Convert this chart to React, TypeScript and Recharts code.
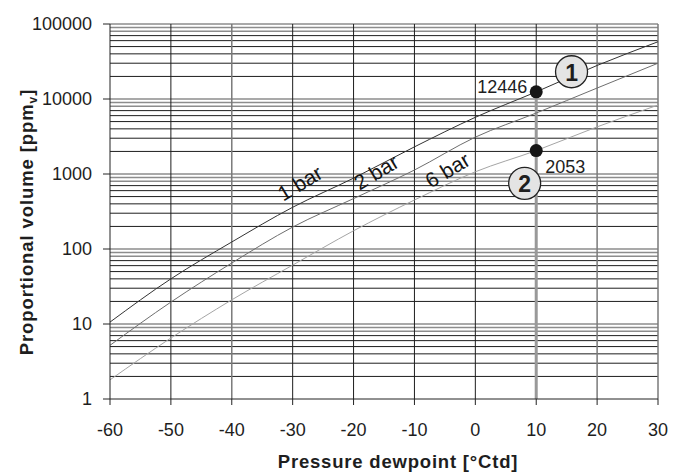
import { Line, LineChart, ReferenceDot, ReferenceLine, XAxis, YAxis } from 'recharts'

// pressure dewpoint [°Ctd]
const temps = [-60, -50, -40, -30, -20, -10, 0, 10, 20, 30]
// proportional volume [ppmv] per line pressure
const ppm1bar = [10.6, 40, 124, 360, 880, 2300, 5700, 12446, 28000, 58000]
const ppm2bar = [5.2, 19.6, 65, 196, 470, 1130, 3100, 6500, 14000, 30000]
const ppm6bar = [1.8, 6.5, 21, 61, 175, 450, 1070, 2053, 4250, 8300]

const yTicks = [1, 10, 100, 1000, 10000, 100000]
const minorSteps = [2, 3, 4, 5, 6, 7, 8, 9]

// reading example at 10 °Ctd
const readTemp = 10
const reading1bar = 12446
const reading6bar = 2053

const curveLabels = [
  { text: '1 bar', t: -28.8, v: 760 },
  { text: '2 bar', t: -16.3, v: 1060 },
  { text: '6 bar', t: -4.6, v: 1130 },
]
const badges = [
  { text: '1', t: 15.8, v: 23100 },
  { text: '2', t: 8.1, v: 750 },
]

const FONT = '"Liberation Sans", Arial, Helvetica, sans-serif'

const rows = temps.map((t, i) => ({ t, b1: ppm1bar[i], b2: ppm2bar[i], b6: ppm6bar[i] }))

const hLines: { v: number; grey: boolean }[] = []
yTicks.slice(0, -1).forEach((d) => {
  minorSteps.forEach((m) => hLines.push({ v: m * d, grey: m >= 8 }))
})
yTicks.slice(1).forEach((d) => hLines.push({ v: d, grey: true }))

const vLines = temps.slice(1)
const greyV = new Set([-40, 20, 30])

function YTitle(props: any) {
  const vb = props.viewBox || { x: 0, y: 24, height: 375 }
  const px = vb.x + 33
  const py = 222
  return (
    <text
      x={px}
      y={py}
      transform={`rotate(-90, ${px}, ${py})`}
      textAnchor="middle"
      fontFamily={FONT}
      fontWeight="bold"
      fontSize={18.5}
      letterSpacing={0.9}
      fill="#1e1e1e"
    >
      Proportional volume [ppm
      <tspan dy={4} fontSize={12}>v</tspan>
      <tspan dy={-4}>]</tspan>
    </text>
  )
}

function XTitle(props: any) {
  const vb = props.viewBox || { x: 110, y: 399, width: 548 }
  return (
    <text
      x={vb.x + vb.width / 2 + 14}
      y={vb.y + 69}
      textAnchor="middle"
      fontFamily={FONT}
      fontWeight="bold"
      fontSize={18.5}
      letterSpacing={0.8}
      fill="#1e1e1e"
    >
      Pressure dewpoint [°Ctd]
    </text>
  )
}

export default function App() {
  return (
    <div style={{ position: 'absolute', left: 0, top: 0, background: '#fff' }}>
      <LineChart width={680} height={472} data={rows} margin={{ top: 24, right: 22, bottom: 0, left: 0 }}>
        <XAxis
          type="number"
          dataKey="t"
          domain={[-60, 30]}
          ticks={temps}
          height={73}
          tickSize={6}
          tickMargin={18}
          stroke="#222"
          tick={{ fill: '#1e1e1e', fontSize: 18, fontFamily: FONT }}
          label={{ content: XTitle }}
          allowDataOverflow
        />
        <YAxis
          type="number"
          scale="log"
          domain={[1, 100000]}
          ticks={yTicks}
          width={110}
          tickSize={7}
          tickMargin={11}
          stroke="#222"
          tick={{ fill: '#1e1e1e', fontSize: 18, fontFamily: FONT }}
          label={{ content: YTitle }}
          allowDataOverflow
        />
        {hLines.map((h) => (
          <ReferenceLine
            key={`h${h.v}`}
            y={h.v}
            stroke={h.grey ? '#8c8c8c' : '#1e1e1e'}
            strokeWidth={h.grey ? 1.5 : 1}
          />
        ))}
        {vLines.map((x) => (
          <ReferenceLine
            key={`v${x}`}
            x={x}
            stroke={greyV.has(x) ? '#7a7a7a' : '#1e1e1e'}
            strokeWidth={greyV.has(x) ? 1.5 : 1}
          />
        ))}
        <ReferenceLine
          segment={[
            { x: readTemp, y: 1 },
            { x: readTemp, y: reading1bar },
          ]}
          stroke="#999"
          strokeWidth={3}
        />
        <Line type="monotone" dataKey="b1" stroke="#333" strokeWidth={1} dot={false} isAnimationActive={false} />
        <Line type="monotone" dataKey="b2" stroke="#6e6e6e" strokeWidth={1} dot={false} isAnimationActive={false} />
        <Line type="monotone" dataKey="b6" stroke="#a5a5a5" strokeWidth={1} dot={false} isAnimationActive={false} />
        {curveLabels.map((c) => (
          <ReferenceDot
            key={c.text}
            x={c.t}
            y={c.v}
            r={0}
            shape={(p: any) => (
              <text
                x={p.cx}
                y={p.cy}
                transform={`rotate(-31, ${p.cx}, ${p.cy})`}
                textAnchor="middle"
                dominantBaseline="central"
                fontFamily={FONT}
                fontSize={21}
                fill="#151515"
              >
                {c.text}
              </text>
            )}
          />
        ))}
        <ReferenceDot
          x={readTemp}
          y={reading1bar}
          r={6}
          shape={(p: any) => (
            <g>
              <circle cx={p.cx} cy={p.cy} r={6.5} fill="#161616" />
              <text x={p.cx - 9} y={p.cy - 5} textAnchor="end" dominantBaseline="central" fontFamily={FONT} fontSize={18} fill="#1e1e1e">
                {reading1bar}
              </text>
            </g>
          )}
        />
        <ReferenceDot
          x={readTemp}
          y={reading6bar}
          r={6}
          shape={(p: any) => (
            <g>
              <circle cx={p.cx} cy={p.cy} r={6.5} fill="#161616" />
              <text x={p.cx + 9} y={p.cy + 16} textAnchor="start" dominantBaseline="central" fontFamily={FONT} fontSize={18} fill="#1e1e1e">
                {reading6bar}
              </text>
            </g>
          )}
        />
        {badges.map((b) => (
          <ReferenceDot
            key={b.text}
            x={b.t}
            y={b.v}
            r={16}
            shape={(p: any) => (
              <g>
                <circle cx={p.cx} cy={p.cy} r={16} fill="#e4e4e4" stroke="#222" strokeWidth={1.3} />
                <text
                  x={p.cx}
                  y={p.cy + 1}
                  textAnchor="middle"
                  dominantBaseline="central"
                  fontFamily={FONT}
                  fontWeight="bold"
                  fontSize={23}
                  fill="#1e1e1e"
                >
                  {b.text}
                </text>
              </g>
            )}
          />
        ))}
      </LineChart>
    </div>
  )
}
